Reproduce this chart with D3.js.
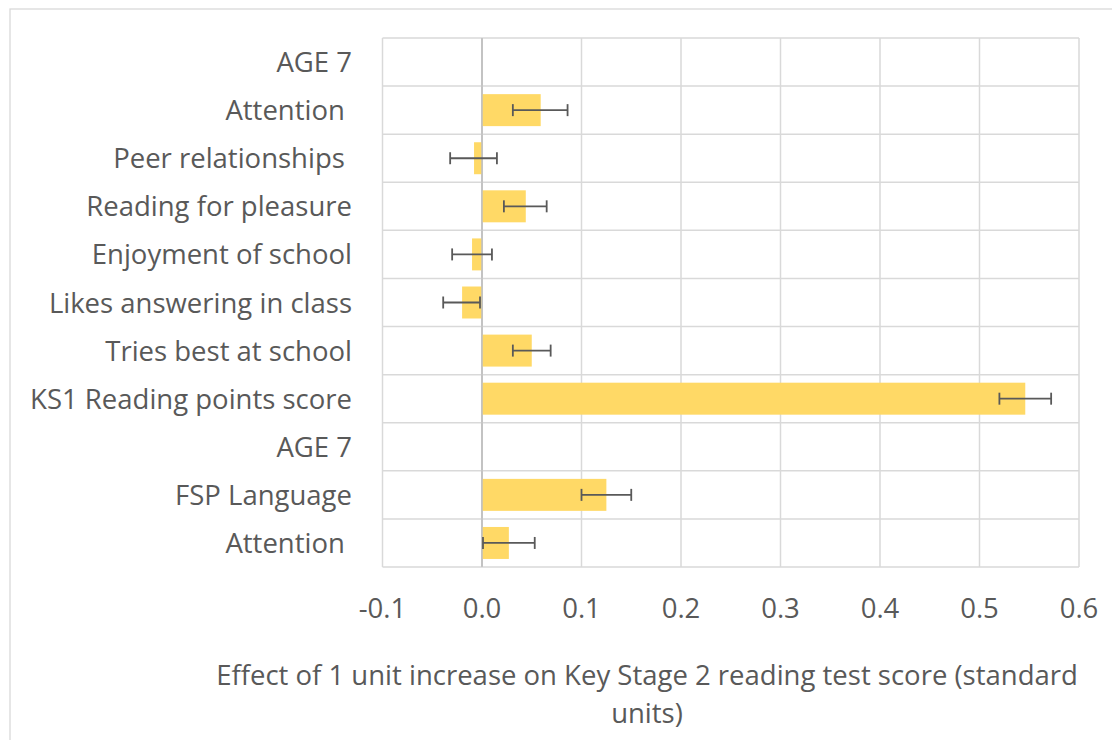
<!DOCTYPE html>
<html>
<head>
<meta charset="utf-8">
<script src="https://cdn.jsdelivr.net/npm/d3@7"></script>
<style>
  body { margin: 0; background: #fff; }
  svg text { font-family: "Open Sans", sans-serif; fill: #595959; white-space: pre; }
</style>
</head>
<body>
<div id="chart"></div>
<script>
// Row labels, top to bottom as shown (some carry a trailing space in the original)
const labels = [
    'AGE 7', 'Attention ', 'Peer relationships ', 'Reading for pleasure',
    'Enjoyment of school', 'Likes answering in class', 'Tries best at school',
    'KS1 Reading points score', 'AGE 7', 'FSP Language', 'Attention '
];
// Unique keys for the band scale
const categories = labels.map((d, i) => i);
// Effect sizes (null = heading row, no bar)
const effects = [null, 0.059, -0.008, 0.044, -0.010, -0.020, 0.050, 0.546, null, 0.125, 0.027];
const lower = [null, 0.031, -0.032, 0.022, -0.030, -0.039, 0.031, 0.520, null, 0.100, 0.001];
const upper = [null, 0.086, 0.015, 0.065, 0.010, -0.002, 0.069, 0.572, null, 0.150, 0.053];
const ticks = [-0.1, 0.0, 0.1, 0.2, 0.3, 0.4, 0.5, 0.6];
const axisTitle = ['Effect of 1 unit increase on Key Stage 2 reading test score (standard', 'units)'];

const width = 1112;
const height = 740;
const plot = { left: 382.5, right: 1079, top: 38, bottom: 567 };
const fontSize = '27.5px';

const svg = d3.select('#chart')
    .append('svg')
    .attr('width', width)
    .attr('height', height);

// Outer chart border
svg.append('rect')
    .attr('x', 10).attr('y', 9)
    .attr('width', width + 20).attr('height', height + 20)
    .attr('fill', 'none')
    .attr('stroke', '#d9d9d9')
    .attr('stroke-width', 1.3);

const x = d3.scaleLinear().domain([-0.1, 0.6]).range([plot.left, plot.right]);
const y = d3.scaleBand().domain(categories).range([plot.top, plot.bottom]).paddingInner(0).paddingOuter(0);
const barPad = (1 - 0.665) / 2 * y.bandwidth();

// Vertical gridlines
svg.append('g')
    .selectAll('line')
    .data(ticks)
    .enter().append('line')
    .attr('x1', d => x(d)).attr('x2', d => x(d))
    .attr('y1', plot.top).attr('y2', plot.bottom)
    .attr('stroke', d => d === 0 ? '#bfbfbf' : '#d9d9d9')
    .attr('stroke-width', 1.5);

// Horizontal row lines
const rowEdges = categories.map(c => y(c)).concat([plot.bottom]);
svg.append('g')
    .selectAll('line')
    .data(rowEdges)
    .enter().append('line')
    .attr('x1', plot.left).attr('x2', plot.right)
    .attr('y1', d => d).attr('y2', d => d)
    .attr('stroke', '#d9d9d9')
    .attr('stroke-width', 1.5);

const rows = categories.map(c => ({ c, v: effects[c], lo: lower[c], hi: upper[c] }))
    .filter(d => d.v !== null);

// Bars
svg.append('g')
    .selectAll('rect')
    .data(rows)
    .enter().append('rect')
    .attr('x', d => x(Math.min(0, d.v)))
    .attr('width', d => Math.abs(x(d.v) - x(0)))
    .attr('y', d => y(d.c) + barPad)
    .attr('height', y.bandwidth() - 2 * barPad)
    .attr('fill', '#ffd966');

// Zero axis line on top of bars
svg.append('line')
    .attr('x1', x(0)).attr('x2', x(0))
    .attr('y1', plot.top).attr('y2', plot.bottom)
    .attr('stroke', '#bfbfbf')
    .attr('stroke-width', 1.5);

// Error bars
const err = svg.append('g').attr('stroke', '#595959').attr('stroke-width', 1.8);
rows.forEach(d => {
    const cy = y(d.c) + y.bandwidth() / 2;
    err.append('line').attr('x1', x(d.lo)).attr('x2', x(d.hi)).attr('y1', cy).attr('y2', cy);
    err.append('line').attr('x1', x(d.lo)).attr('x2', x(d.lo)).attr('y1', cy - 6).attr('y2', cy + 6);
    err.append('line').attr('x1', x(d.hi)).attr('x2', x(d.hi)).attr('y1', cy - 6).attr('y2', cy + 6);
});

// Category labels
svg.append('g')
    .selectAll('text')
    .data(categories)
    .enter().append('text')
    .attr('x', 352)
    .attr('y', d => y(d) + y.bandwidth() / 2 + 10)
    .attr('text-anchor', 'end')
    .attr('font-size', fontSize)
    .text(d => labels[d]);

// Tick labels (plain hyphen for negatives, as in the original)
svg.append('g')
    .selectAll('text')
    .data(ticks)
    .enter().append('text')
    .attr('x', d => x(d))
    .attr('y', 618)
    .attr('text-anchor', 'middle')
    .attr('font-size', fontSize)
    .text(d => d3.format('.1f')(d).replace('\u2212', '-'));

// Axis title
svg.append('g')
    .selectAll('text')
    .data(axisTitle)
    .enter().append('text')
    .attr('x', 647)
    .attr('y', (d, i) => 685 + i * 38)
    .attr('text-anchor', 'middle')
    .attr('font-size', fontSize)
    .text(d => d);
</script>
</body>
</html>
